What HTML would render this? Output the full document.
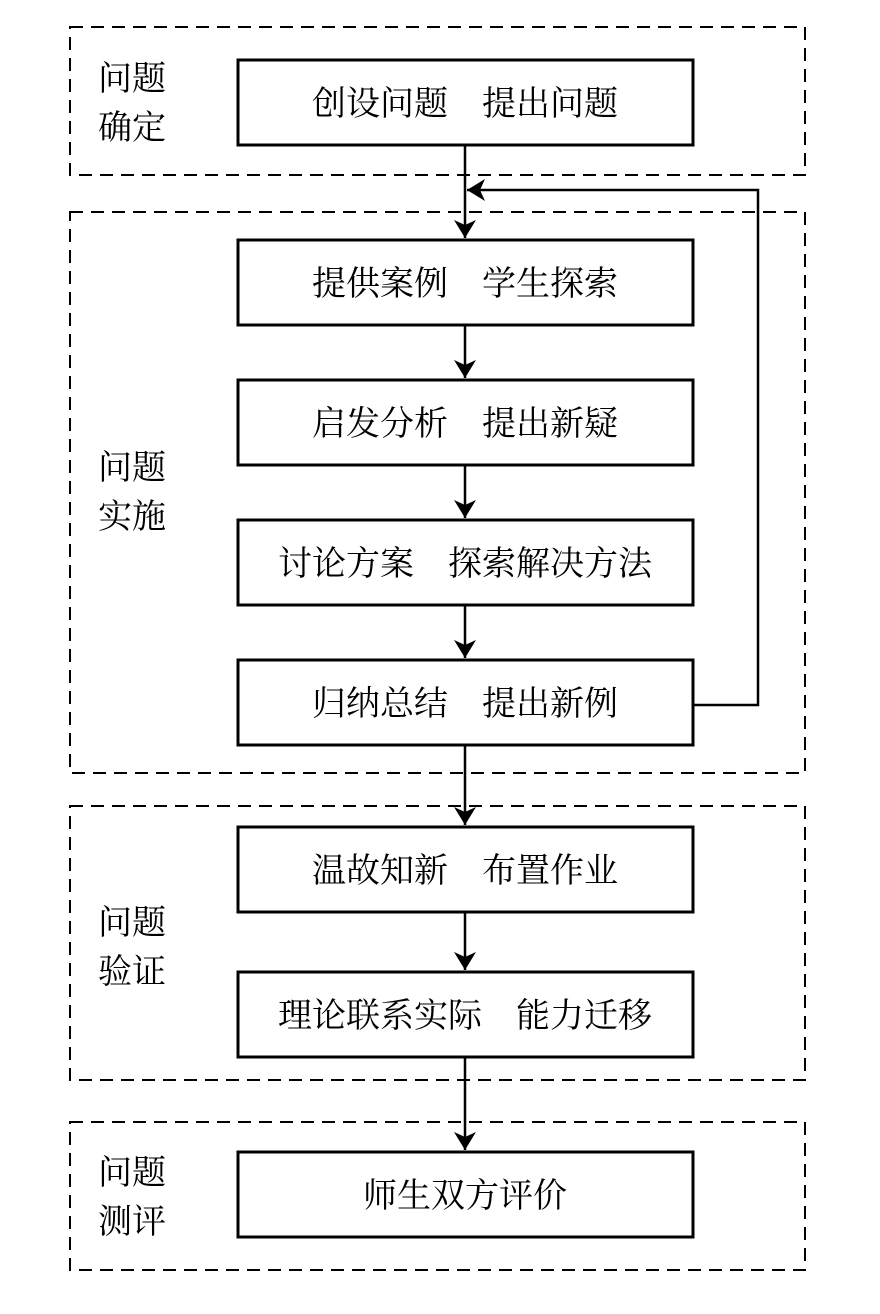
<!DOCTYPE html>
<html><head><meta charset="utf-8"><style>
body{margin:0;background:#fff;}
svg text{font-family:"Liberation Serif","Noto Serif CJK SC","Noto Sans CJK SC",serif;font-size:34px;fill:#000;}
</style></head><body>
<svg width="880" height="1309" viewBox="0 0 880 1309" xmlns="http://www.w3.org/2000/svg">
<defs><marker id="a" markerWidth="10" markerHeight="10" refX="9" refY="5" orient="auto" markerUnits="userSpaceOnUse" viewBox="0 0 10 10"><path d="M0,0 L10,5 L0,10 L3,5 z" fill="#000"/></marker>
<marker id="b" markerWidth="18" markerHeight="22" refX="18" refY="11" orient="auto" markerUnits="userSpaceOnUse" viewBox="0 0 18 22"><path d="M0,0 L18,11 L0,22 L5,11 z" fill="#000"/></marker></defs>
<g fill="none" stroke="#000" stroke-width="2" stroke-dasharray="13,8">
<rect x="70" y="27" width="735" height="148"/>
<rect x="70" y="212" width="735" height="561"/>
<rect x="70" y="806" width="735" height="274"/>
<rect x="70" y="1122" width="735" height="148"/>
</g>
<g fill="none" stroke="#000" stroke-width="3">
<rect x="238" y="60" width="455" height="85"/>
<rect x="238" y="240" width="455" height="85"/>
<rect x="238" y="380" width="455" height="85"/>
<rect x="238" y="520" width="455" height="85"/>
<rect x="238" y="660" width="455" height="85"/>
<rect x="238" y="827" width="455" height="85"/>
<rect x="238" y="972" width="455" height="85"/>
<rect x="238" y="1152" width="455" height="85"/>
</g>
<g stroke="#000" stroke-width="2.5" fill="none" marker-end="url(#b)">
<line x1="465" y1="145" x2="465" y2="238"/>
<line x1="465" y1="325" x2="465" y2="378"/>
<line x1="465" y1="465" x2="465" y2="518"/>
<line x1="465" y1="605" x2="465" y2="658"/>
<line x1="465" y1="745" x2="465" y2="825"/>
<line x1="465" y1="912" x2="465" y2="970"/>
<line x1="465" y1="1057" x2="465" y2="1150"/>
<polyline points="693,705 758,705 758,190 467,190"/>
</g>
<g text-anchor="middle">
<text x="465" y="115">创设问题　提出问题</text>
<text x="465" y="295">提供案例　学生探索</text>
<text x="465" y="435">启发分析　提出新疑</text>
<text x="465" y="575">讨论方案　探索解决方法</text>
<text x="465" y="715">归纳总结　提出新例</text>
<text x="465" y="882">温故知新　布置作业</text>
<text x="465" y="1027">理论联系实际　能力迁移</text>
<text x="465" y="1207">师生双方评价</text>
</g>
<g>
<text x="98" y="90">问题</text><text x="98" y="139">确定</text>
<text x="98" y="479">问题</text><text x="98" y="528">实施</text>
<text x="98" y="934">问题</text><text x="98" y="983">验证</text>
<text x="98" y="1184">问题</text><text x="98" y="1233">测评</text>
</g>
</svg>
</body></html>
